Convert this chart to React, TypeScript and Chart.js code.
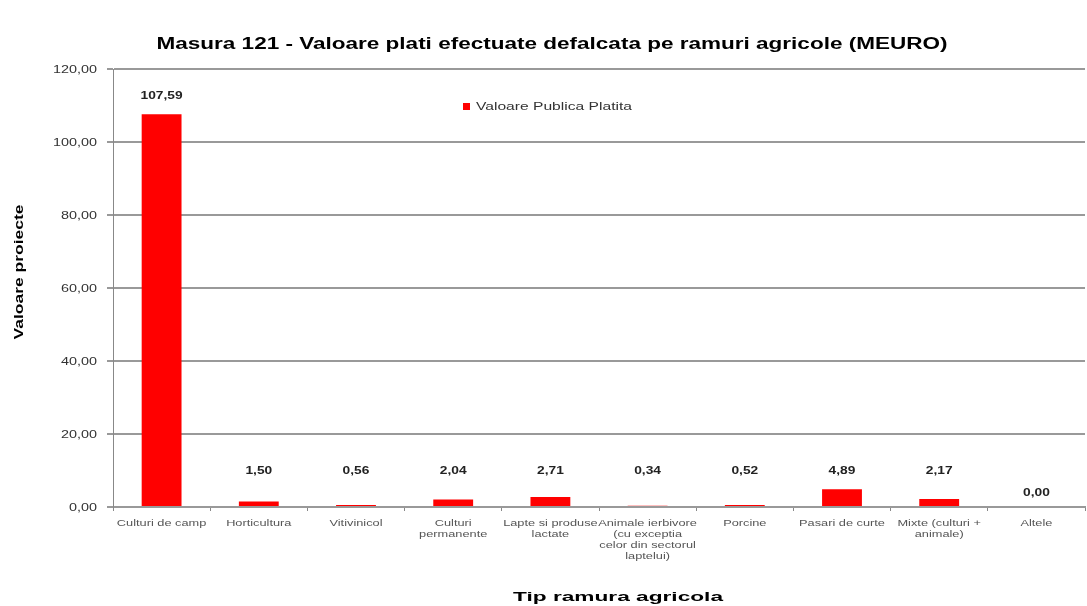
import React, { useEffect, useRef } from "react";
import { Chart, registerables } from "chart.js";
Chart.register(...registerables);

const categories: string[][] = [
  ["Culturi de camp"],
  ["Horticultura"],
  ["Vitivinicol"],
  ["Culturi", "permanente"],
  ["Lapte si produse", "lactate"],
  ["Animale ierbivore", "(cu exceptia", "celor din sectorul", "laptelui)"],
  ["Porcine"],
  ["Pasari de curte"],
  ["Mixte (culturi +", "animale)"],
  ["Altele"],
];
const values = [107.59, 1.5, 0.56, 2.04, 2.71, 0.34, 0.52, 4.89, 2.17, 0.0];
const seriesName = "Valoare Publica Platita";
const yTicks = [0, 20, 40, 60, 80, 100, 120];
const chartTitle = "Masura 121 - Valoare plati efectuate defalcata pe ramuri agricole (MEURO)";
const xTitle = "Tip ramura agricola";
const yTitle = "Valoare proiecte";

const FONT = "'Liberation Sans', Arial, sans-serif";
const fmt = (v: number) => v.toFixed(2).replace(".", ",");

function drawStretched(
  ctx: CanvasRenderingContext2D,
  text: string,
  x: number,
  y: number,
  font: string,
  color: string,
  align: "left" | "center" | "right",
  sx: number
) {
  ctx.save();
  ctx.font = font;
  ctx.fillStyle = color;
  ctx.textBaseline = "middle";
  ctx.textAlign = align;
  ctx.translate(x, y);
  ctx.scale(sx, 1);
  ctx.fillText(text, 0, 0);
  ctx.restore();
}

function fitScale(ctx: CanvasRenderingContext2D, text: string, font: string, target: number) {
  ctx.save();
  ctx.font = font;
  const w = ctx.measureText(text).width;
  ctx.restore();
  return target / w;
}

const textPlugin = {
  id: "textPlugin",
  afterDraw(chart: any) {
    const { ctx, scales, chartArea } = chart;
    const xs = scales.x;
    const ys = scales.y;
    const meta = chart.getDatasetMeta(0);

    // Title
    const tFont = `bold 16px ${FONT}`;
    drawStretched(ctx, chartTitle, 552, 45, tFont, "#000", "center", fitScale(ctx, chartTitle, tFont, 791));

    // Y ticks
    const ytFont = `11px ${FONT}`;
    yTicks.forEach((v) => {
      drawStretched(ctx, fmt(v), chartArea.left - 16, ys.getPixelForValue(v) + 1, ytFont, "#333", "right", 1.31);
    });

    // X tick labels
    const xtFont = `9px ${FONT}`;
    categories.forEach((lines, i) => {
      const cx = xs.getPixelForValue(i);
      lines.forEach((ln, j) => {
        drawStretched(ctx, ln, cx, chartArea.bottom + 17 + j * 11, xtFont, "#555", "center", 1.42);
      });
    });

    // Axis titles
    const xtTitleFont = `bold 13px ${FONT}`;
    drawStretched(ctx, xTitle, 618, 597, xtTitleFont, "#000", "center", fitScale(ctx, xTitle, xtTitleFont, 210));

    ctx.save();
    ctx.translate(19, 272);
    ctx.rotate(-Math.PI / 2);
    ctx.font = `bold 13px ${FONT}`;
    ctx.fillStyle = "#000";
    ctx.textAlign = "center";
    ctx.textBaseline = "middle";
    const yw = ctx.measureText(yTitle).width;
    ctx.scale(135 / yw, 1);
    ctx.fillText(yTitle, 0, 0);
    ctx.restore();

    // Data labels
    const dFont = `bold 11px ${FONT}`;
    const cap = ys.getPixelForValue(10);
    meta.data.forEach((bar: any, i: number) => {
      let y = Math.min(bar.y - 18, cap);
      if (values[i] === 0) y = bar.y - 14;
      drawStretched(ctx, fmt(values[i]), bar.x, y, dFont, "#222", "center", 1.25);
    });

    // Legend
    ctx.save();
    ctx.fillStyle = "#ff0000";
    ctx.fillRect(463, 103, 7, 7);
    ctx.restore();
    const lFont = `11px ${FONT}`;
    drawStretched(ctx, seriesName, 476, 106.5, lFont, "#333", "left", fitScale(ctx, seriesName, lFont, 156));
  },
};

export default function App() {
  const ref = useRef<HTMLCanvasElement>(null);
  useEffect(() => {
    document.body.style.margin = "0";
    document.body.style.background = "#fff";
    const chart = new Chart(ref.current!, {
      type: "bar",
      data: {
        labels: categories.map((c) => c.join(" ")),
        datasets: [
          {
            label: seriesName,
            data: values,
            backgroundColor: "#ff0000",
            barPercentage: 0.41,
            categoryPercentage: 1,
          },
        ],
      },
      options: {
        animation: false,
        responsive: false,
        layout: { padding: { left: 107, right: 2, top: 69, bottom: 95 } },
        plugins: {
          legend: { display: false },
          tooltip: { enabled: false },
          title: { display: false },
        },
        scales: {
          x: {
            grid: {
              display: true,
              offset: true,
              drawOnChartArea: false,
              drawTicks: true,
              tickLength: 4,
              color: "#888",
            },
            border: { color: "#999", width: 2 },
            ticks: { display: false },
            title: { display: false },
          },
          y: {
            min: 0,
            max: 120,
            afterBuildTicks: (axis: any) => {
              axis.ticks = yTicks.map((v) => ({ value: v }));
            },
            grid: { color: "#999", lineWidth: 2, tickLength: 6 },
            border: { color: "#888", width: 1 },
            ticks: { display: false },
            title: { display: false },
          },
        },
      },
      plugins: [textPlugin],
    });
    return () => chart.destroy();
  }, []);
  return <canvas ref={ref} width={1087} height={606} style={{ display: "block" }} />;
}
